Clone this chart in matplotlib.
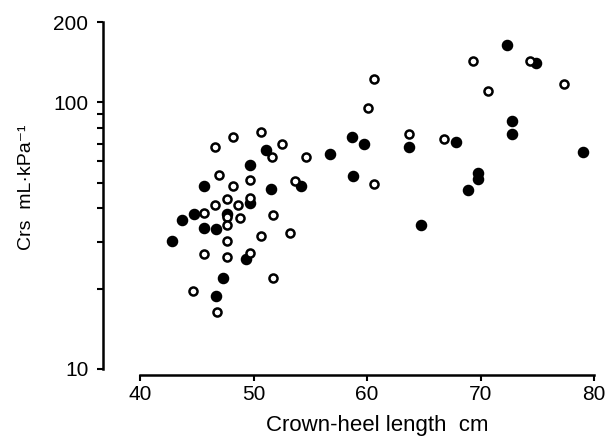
import numpy as np
import matplotlib
matplotlib.use("Agg")
import matplotlib.pyplot as plt
from matplotlib.ticker import FixedLocator, FixedFormatter, NullFormatter

plt.rcParams['font.family'] = ['Liberation Sans', 'DejaVu Sans']

# open circles
open_x = [46.6, 48.2, 50.7, 51.6, 52.5, 54.6, 47.0, 48.2, 49.7, 53.7,
          47.7, 46.6, 48.6, 49.7, 45.6, 47.7, 48.8, 51.7, 47.7, 50.7,
          53.2, 47.7, 45.6, 47.7, 49.7, 51.7, 44.7, 46.8,
          69.3, 74.4, 77.4, 70.7, 60.6, 60.1, 63.7, 66.8, 60.6]
open_y = [67.9, 74.3, 77.6, 62.4, 69.8, 62.4, 53.2, 48.6, 51.3, 50.8,
          43.4, 41.3, 41.3, 43.8, 38.5, 37.1, 36.9, 37.8, 34.6, 31.5,
          32.4, 30.2, 26.9, 26.4, 27.2, 22.0, 19.6, 16.4,
          142.8, 143.2, 117.1, 110.5, 122.0, 95.2, 76.0, 72.8, 49.5]

# filled circles
filled_x = [51.1, 49.7, 45.6, 51.5, 54.2, 49.7, 44.8, 47.7, 43.7, 45.6,
            46.7, 42.8, 49.3, 47.3, 46.7,
            72.3, 74.9, 72.8, 72.8, 58.7, 59.7, 63.7, 67.8, 56.7, 79.0,
            58.8, 69.8, 69.8, 68.9, 64.8]
filled_y = [66.2, 58.2, 48.6, 47.4, 48.6, 41.9, 38.2, 38.0, 36.1, 33.8,
            33.4, 30.2, 25.8, 22.0, 18.8,
            164.0, 140.0, 85.1, 76.0, 74.3, 69.6, 68.0, 71.0, 64.1, 65.0,
            53.1, 54.5, 51.6, 46.8, 34.7]

W, H = 605, 441
fig = plt.figure(figsize=(W / 100, H / 100), dpi=100)
ax = fig.add_axes([140 / W, 1 - 369 / H, 454 / W, 347 / H])

ax.plot(filled_x, filled_y, 'o', color='black', markersize=7.3,
        linestyle='none', clip_on=False)
ax.plot(open_x, open_y, 'o', markerfacecolor='white', markeredgecolor='black',
        markersize=5.8, markeredgewidth=1.8, linestyle='none', clip_on=False)

ax.set_yscale('log')
ax.set_xlim(40, 80)
ax.set_ylim(10, 200)

ax.yaxis.set_major_locator(FixedLocator([10, 100, 200]))
ax.yaxis.set_major_formatter(FixedFormatter(['10', '100', '200']))
ax.yaxis.set_minor_locator(FixedLocator([20, 30, 40, 50, 60, 70, 80, 90]))
ax.yaxis.set_minor_formatter(NullFormatter())
ax.set_xticks([40, 50, 60, 70, 80])

for s in ['top', 'right']:
    ax.spines[s].set_visible(False)
ax.spines['left'].set_position(('outward', 37 * 0.72))
ax.spines['bottom'].set_position(('outward', 6 * 0.72))
ax.spines['left'].set_linewidth(1.8)
ax.spines['bottom'].set_linewidth(1.8)

ax.tick_params(axis='both', which='both', direction='out', length=4.5,
               width=1.5, labelsize=15, pad=3)
ax.tick_params(axis='y', which='both', pad=6)

ax.set_xlabel('Crown-heel length  cm', fontsize=16)
ax.set_ylabel('Crs  mL·kPa⁻¹', fontsize=14)
ax.xaxis.set_label_coords(0.523, -0.133)
ax.yaxis.set_label_coords(-0.232, 0.524)

fig.savefig('out.png', dpi=100)
